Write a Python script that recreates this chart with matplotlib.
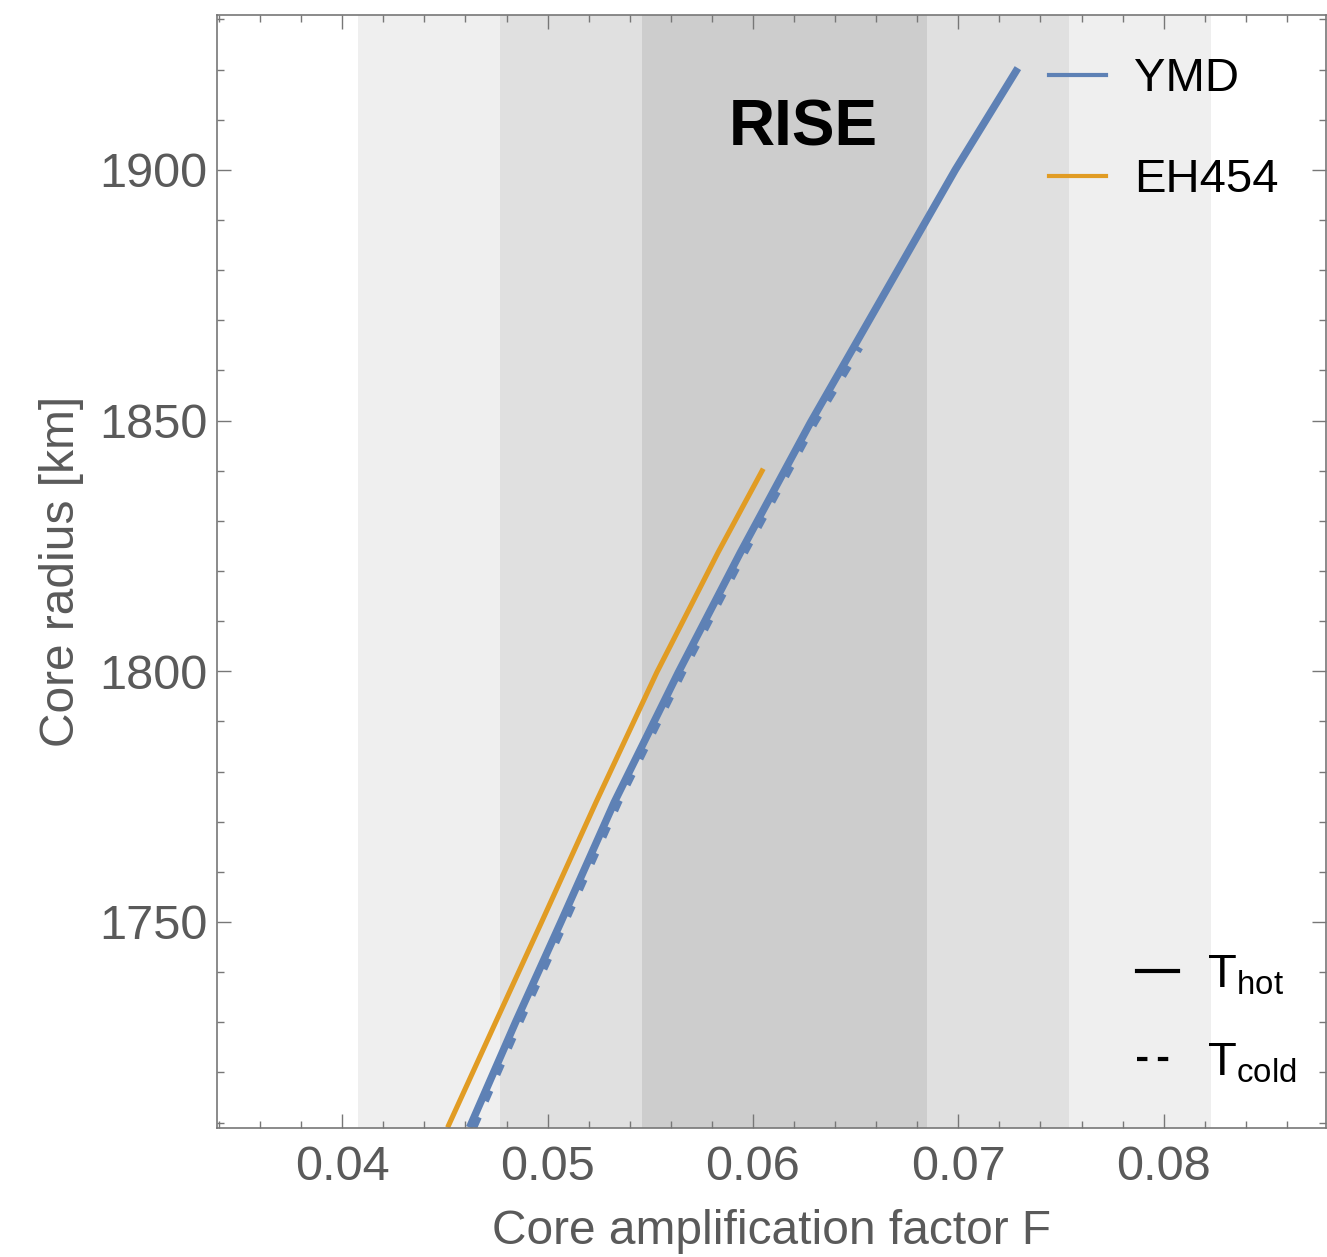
import matplotlib.pyplot as plt
import matplotlib.lines as mlines
from matplotlib.ticker import MultipleLocator

plt.rcParams['font.family'] = ['Liberation Sans', 'DejaVu Sans']
plt.rcParams['mathtext.fontset'] = 'custom'
plt.rcParams['mathtext.rm'] = 'Liberation Sans'
plt.rcParams['mathtext.it'] = 'Liberation Sans'

# RISE constraint on F (centre and 1-sigma)
rise_center = 0.06153
rise_sigma = 0.00692

# core radius [km] vs amplification factor F
ymd_hot_r = [1709, 1730.1, 1750, 1773.9, 1799.8, 1823.7, 1849.6, 1873.9, 1900, 1920.3]
ymd_hot_f = [0.0462, 0.04845, 0.05065, 0.05325, 0.05637, 0.05939, 0.06280, 0.0662, 0.06985, 0.0729]
ymd_cold_r = [1709, 1730.1, 1750, 1773.9, 1799.8, 1823.7, 1849.6, 1864.6]
ymd_cold_f = [0.0464, 0.04865, 0.05085, 0.05345, 0.05657, 0.05959, 0.06300, 0.0652]
eh_hot_r = [1709, 1730.1, 1750, 1773.9, 1799.8, 1823.7, 1840.4]
eh_hot_f = [0.04513, 0.04748, 0.04971, 0.05236, 0.05532, 0.05830, 0.0605]

blue = '#5e81b5'
orange = '#e19c24'
grey = '#5a5a5a'

fig = plt.figure(figsize=(13.27, 12.57), dpi=100)
ax = fig.add_axes([0.1635, 0.1026, 0.8357, 0.8855])

for k, c in zip([3, 2, 1], ['#efefef', '#e0e0e0', '#cdcdcd']):
    ax.axvspan(rise_center - k * rise_sigma, rise_center + k * rise_sigma,
               color=c, lw=0, zorder=0)

ax.plot(eh_hot_f, eh_hot_r, color=orange, lw=3.7, solid_capstyle='butt')
ax.plot(ymd_cold_f, ymd_cold_r, color=blue, lw=5.2, dashes=(1.6, 2.4))
ax.plot(ymd_hot_f, ymd_hot_r, color=blue, lw=5.4, solid_capstyle='butt')

ax.text(0.5285, 0.898, 'RISE', transform=ax.transAxes, ha='center', va='center',
        fontsize=46, fontweight='bold', color='black')

ax.set_xlim(0.0339, 0.0879)
ax.set_ylim(1708.9, 1930.9)
ax.xaxis.set_major_locator(MultipleLocator(0.01))
ax.xaxis.set_minor_locator(MultipleLocator(0.002))
ax.yaxis.set_major_locator(MultipleLocator(50))
ax.yaxis.set_minor_locator(MultipleLocator(10))
ax.set_xticks([0.04, 0.05, 0.06, 0.07, 0.08])
ax.set_xticklabels(['0.04', '0.05', '0.06', '0.07', '0.08'])
ax.tick_params(which='both', direction='in', top=True, right=True,
               color='#777777', width=1.0, labelsize=35, labelcolor=grey)
ax.tick_params(which='major', length=10)
ax.tick_params(which='minor', length=5)
ax.tick_params(axis='x', which='major', pad=12)
ax.tick_params(axis='y', which='major', pad=7)
for s in ax.spines.values():
    s.set_color('#777777')
    s.set_linewidth(1.2)

ax.set_xlabel('Core amplification factor F', fontsize=34.5, color=grey, labelpad=14)
ax.set_ylabel('Core radius [km]', fontsize=34.5, color=grey, labelpad=11)

h1 = [mlines.Line2D([], [], color=blue, lw=3),
      mlines.Line2D([], [], color=orange, lw=3)]
leg1 = ax.legend(h1, ['YMD', 'EH454'], loc='upper left', bbox_to_anchor=(0.712, 1.0),
                 frameon=False, fontsize=34, handlelength=1.2, handletextpad=0.6,
                 labelspacing=1.2)
ax.add_artist(leg1)

h2 = [mlines.Line2D([], [], color='black', lw=3),
      mlines.Line2D([], [], color='black', lw=3, dashes=(2.5, 2.5))]
ax.legend(h2, [r'$\mathrm{T}_{\mathrm{hot}}$', r'$\mathrm{T}_{\mathrm{cold}}$'],
          loc='lower left', bbox_to_anchor=(0.791, 0.0), frameon=False, fontsize=34,
          handlelength=0.88, handletextpad=0.6, labelspacing=0.94)

fig.savefig('out.png', dpi=100)
